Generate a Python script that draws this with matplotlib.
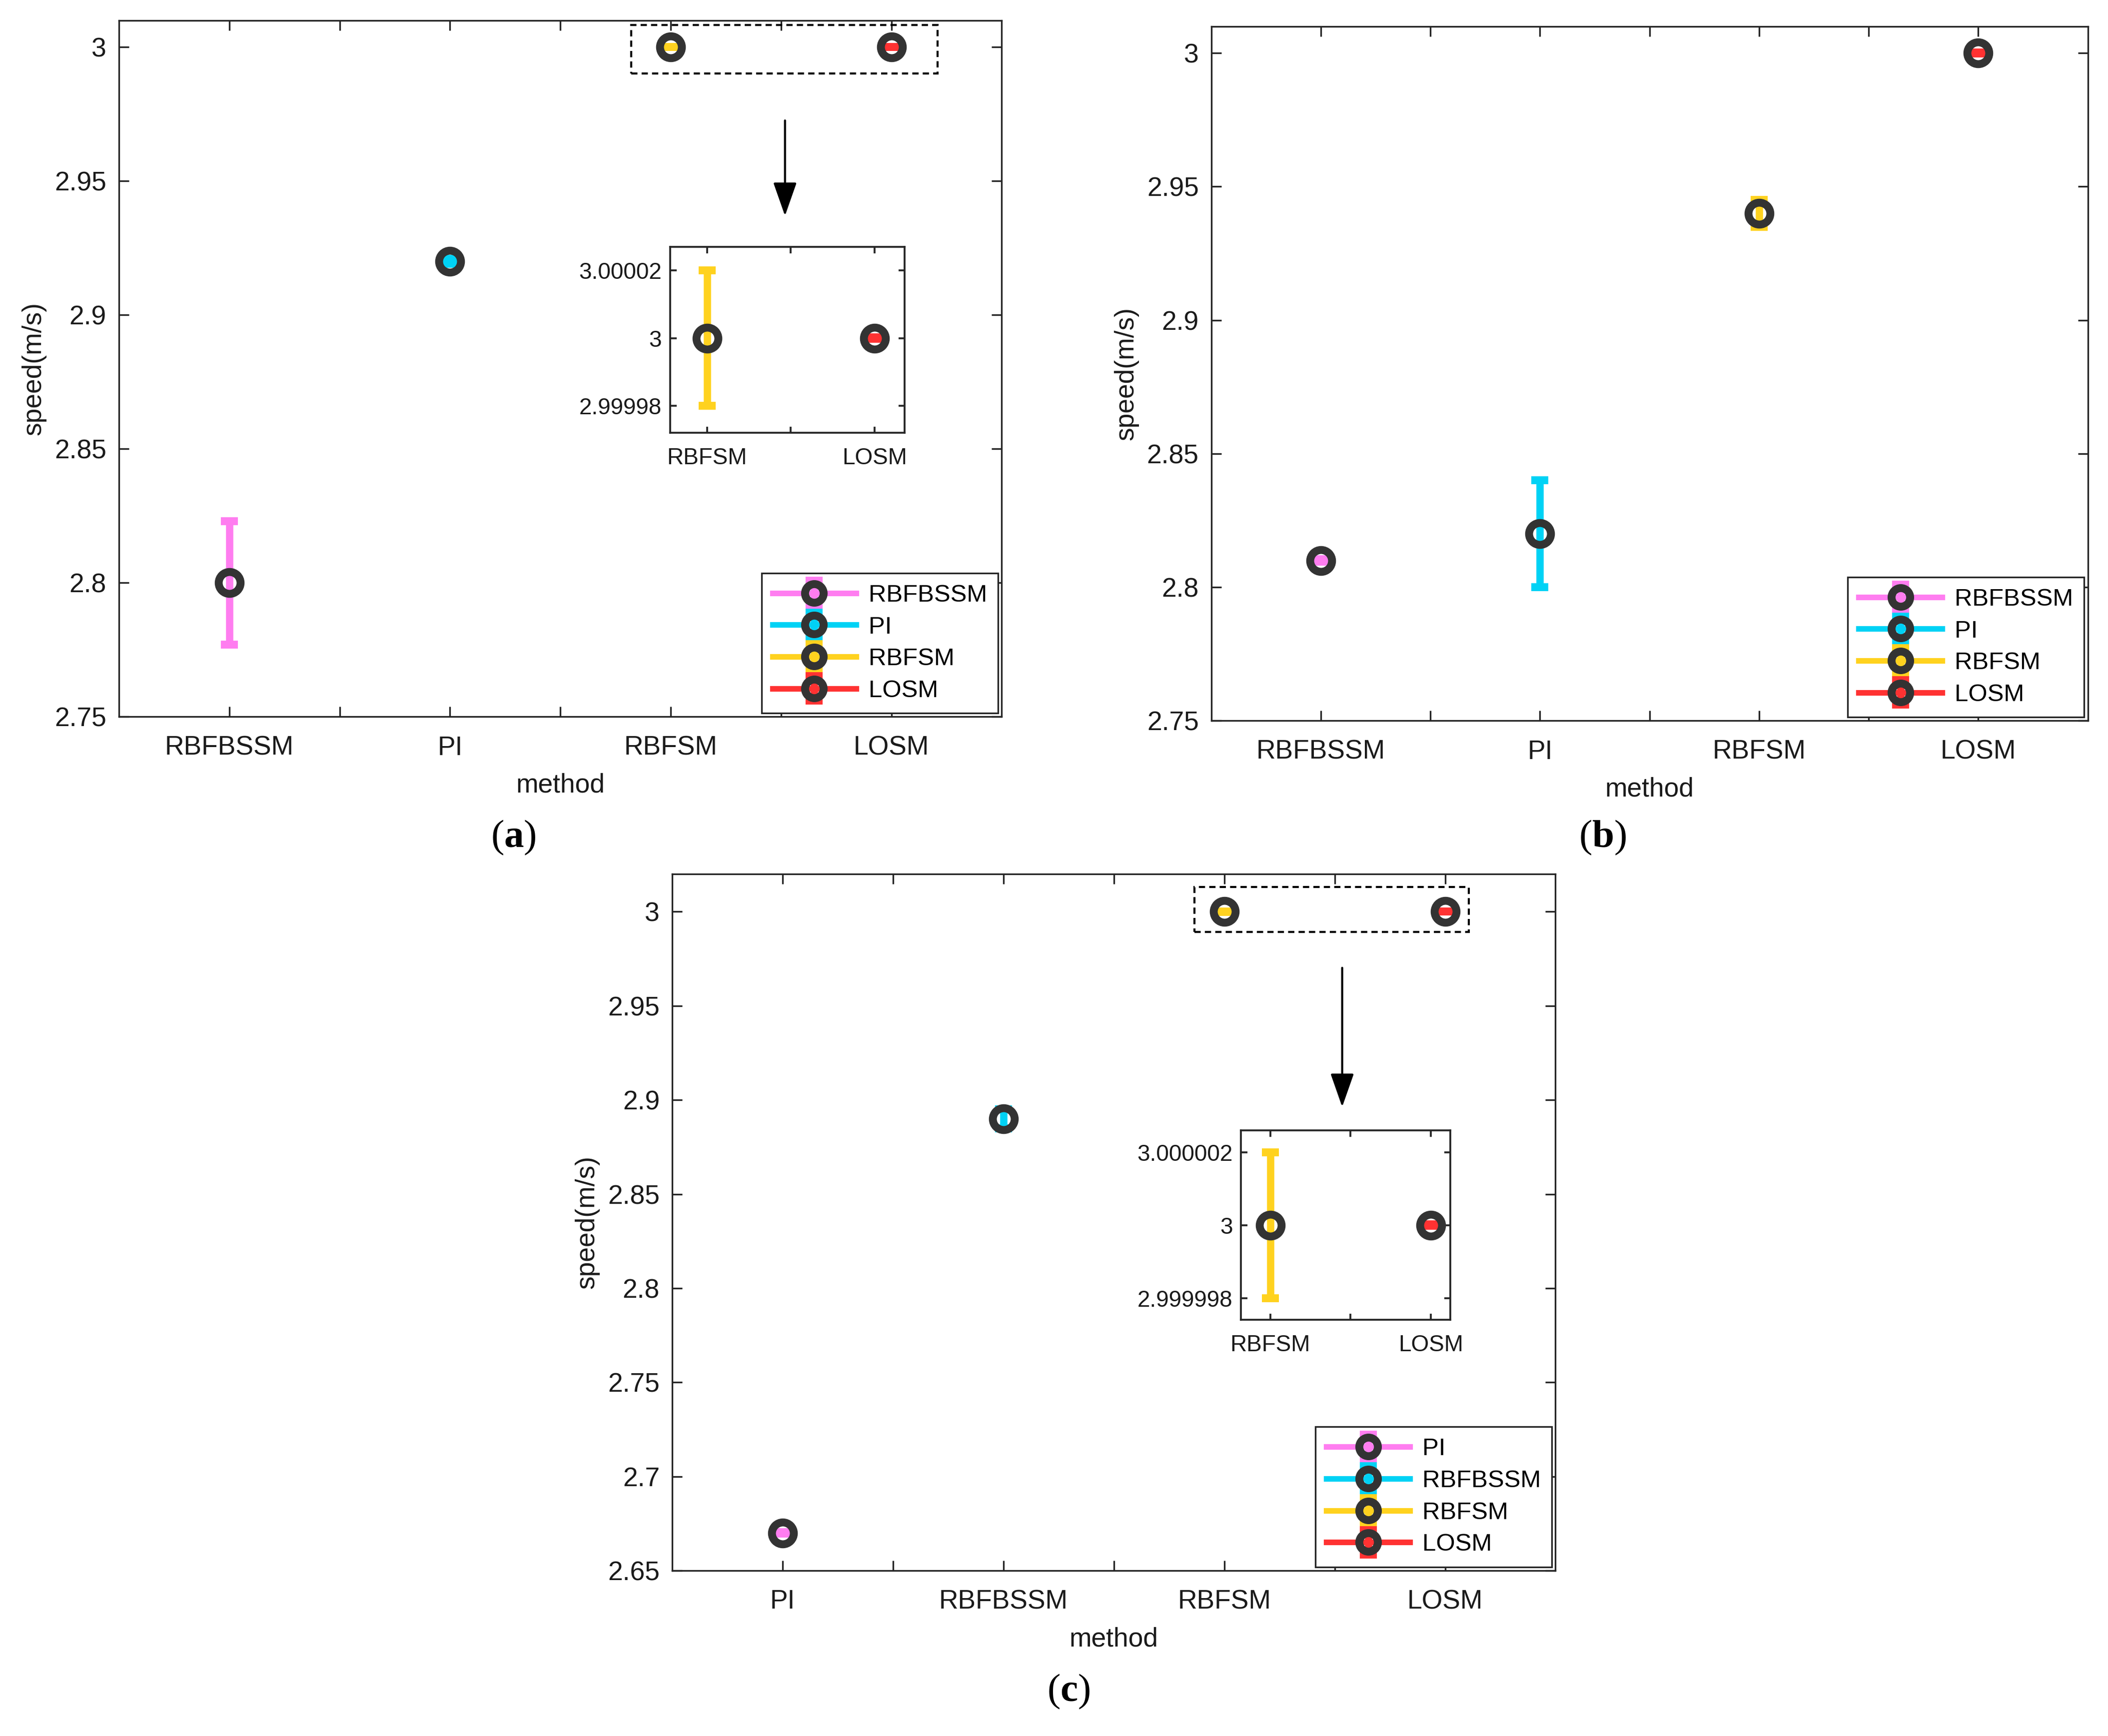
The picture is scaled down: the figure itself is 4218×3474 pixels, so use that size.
import matplotlib.pyplot as plt
from matplotlib.patches import Rectangle

plt.rcParams['font.family'] = ['Liberation Sans', 'DejaVu Sans']
plt.rcParams['mathtext.fontset'] = 'custom'
plt.rcParams['mathtext.bf'] = 'Liberation Serif:bold'
plt.rcParams['mathtext.rm'] = 'Liberation Serif'

# series colours (by plotting order) and marker edge
COLORS = ['#FF7DF0', '#00D2F5', '#FFD21F', '#FF3232']
EDGE = '#333333'
AXCOL = '#262626'

# panel (a)
A_NAMES = ['RBFBSSM', 'PI', 'RBFSM', 'LOSM']
A_MEAN = [2.80, 2.92, 3.00, 3.00]
A_ERR = [0.023, 0.001, 0.00002, 0.0000002]
A_YTICKS = [2.75, 2.8, 2.85, 2.9, 2.95, 3.0]
A_INSET_YTICKS = [2.99998, 3.0, 3.00002]

# panel (b)
B_NAMES = ['RBFBSSM', 'PI', 'RBFSM', 'LOSM']
B_MEAN = [2.81, 2.82, 2.94, 3.00]
B_ERR = [0.0005, 0.02, 0.005, 0.0002]
B_YTICKS = [2.75, 2.8, 2.85, 2.9, 2.95, 3.0]

# panel (c)
C_NAMES = ['PI', 'RBFBSSM', 'RBFSM', 'LOSM']
C_MEAN = [2.67, 2.89, 3.00, 3.00]
C_ERR = [0.0005, 0.005, 0.000002, 0.00000002]
C_YTICKS = [2.65, 2.7, 2.75, 2.8, 2.85, 2.9, 2.95, 3.0]
C_INSET_YTICKS = [2.999998, 3.0, 3.000002]


def draw_points(ax, names, means, errs, idx):
    """ one errorbar per method, MATLAB-like style """
    for i in idx:
        ax.errorbar(i + 1, means[i], yerr=errs[i], color=COLORS[i],
                    linestyle='-', linewidth=2.7, elinewidth=3.5,
                    capsize=4.1, capthick=3.5, marker='o', markersize=10.5,
                    markeredgewidth=3.8, markeredgecolor=EDGE,
                    markerfacecolor='none', label=names[i])


def style_axes(ax, fs, ticklen, lw, pad):
    for sp in ax.spines.values():
        sp.set_color(AXCOL)
        sp.set_linewidth(lw)
    ax.tick_params(direction='in', top=True, right=True, length=ticklen,
                   width=lw, color=AXCOL, labelsize=fs, labelcolor='#1a1a1a',
                   pad=pad)


def main_panel(rect, names, means, errs, ylim, yticks):
    ax = fig.add_axes(rect)
    draw_points(ax, names, means, errs, range(len(names)))
    ax.set_xlim(0.5, 4.5)
    ax.set_ylim(*ylim)
    ax.set_xticks([1, 1.5, 2, 2.5, 3, 3.5, 4])
    ax.set_xticklabels([names[0], '', names[1], '', names[2], '', names[3]])
    ax.set_yticks(yticks)
    ax.set_yticklabels(['{:.7g}'.format(v) for v in yticks])
    style_axes(ax, 12.8, 4.8, 0.8, 6)
    ax.tick_params(axis='x', pad=9)
    ax.set_xlabel('method', fontsize=12.8, labelpad=6, color='#1a1a1a')
    ax.set_ylabel('speed(m/s)', fontsize=12.8, labelpad=4, color='#1a1a1a')
    leg = ax.legend(loc='lower right', fontsize=11.8, handlelength=3.4,
                    markerscale=0.85, fancybox=False, framealpha=1,
                    edgecolor=AXCOL, borderaxespad=0.15, labelspacing=0.38,
                    borderpad=0.45, handletextpad=0.5)
    leg.get_frame().set_linewidth(0.8)
    return ax


def inset_panel(rect, names, means, errs, xlim, ylim, yticks):
    ax = fig.add_axes(rect)
    draw_points(ax, names, means, errs, [2, 3])
    ax.set_xlim(*xlim)
    ax.set_ylim(*ylim)
    ax.set_xticks([3, 3.5, 4])
    ax.set_xticklabels([names[2], '', names[3]])
    ax.set_yticks(yticks)
    ax.set_yticklabels(['{:.7g}'.format(v) for v in yticks])
    style_axes(ax, 11, 3, 0.9, 4)
    ax.tick_params(axis='x', pad=7)
    return ax


def zoom_marker(ax, box, arrow):
    """ dashed box round the points at 3 and arrow to the inset """
    (x0, x1, y0, y1) = box
    ax.add_patch(Rectangle((x0, y0), x1 - x0, y1 - y0, fill=False,
                           edgecolor='k', linewidth=1.0,
                           linestyle=(0, (3, 2)), zorder=5))
    (xa, ya0, ya1) = arrow
    ax.annotate('', xy=(xa, ya1), xytext=(xa, ya0),
                arrowprops=dict(arrowstyle='-|>,head_length=1.0,head_width=0.35',
                                color='k', lw=1.0, mutation_scale=14,
                                shrinkA=0, shrinkB=0))


fig = plt.figure(figsize=(4218 / 300, 3474 / 300), dpi=300)

ax_a = main_panel([0.0564, 0.5871, 0.4188, 0.4012], A_NAMES, A_MEAN, A_ERR,
                  (2.75, 3.01), A_YTICKS)
zoom_marker(ax_a, (2.822, 4.21, 2.9902, 3.0082), (3.518, 2.9726, 2.937))
inset_panel([0.3179, 0.7507, 0.1113, 0.1071], A_NAMES, A_MEAN, A_ERR,
            (2.78, 4.18), (2.999972, 3.000027), A_INSET_YTICKS)

ax_b = main_panel([0.5746, 0.5848, 0.4158, 0.4000], B_NAMES, B_MEAN, B_ERR,
                  (2.75, 3.01), B_YTICKS)

ax_c = main_panel([0.3189, 0.0953, 0.4190, 0.4012], C_NAMES, C_MEAN, C_ERR,
                  (2.65, 3.02), C_YTICKS)
zoom_marker(ax_c, (2.865, 4.107, 2.9893, 3.0132), (3.534, 2.9702, 2.8963))
inset_panel([0.5887, 0.2397, 0.0994, 0.1092], C_NAMES, C_MEAN, C_ERR,
            (2.818, 4.122), (2.9999974, 3.0000026), C_INSET_YTICKS)

for (x, y, tag) in [(0.2436, 0.5174, 'a'), (0.7602, 0.5174, 'b'),
                    (0.507, 0.0256, 'c')]:
    fig.text(x, y, '(' + r'$\mathbf{' + tag + '}$' + ')', ha='center',
             va='center', fontsize=19, family='Liberation Serif')

fig.savefig('out.png', dpi=300, facecolor='white')
